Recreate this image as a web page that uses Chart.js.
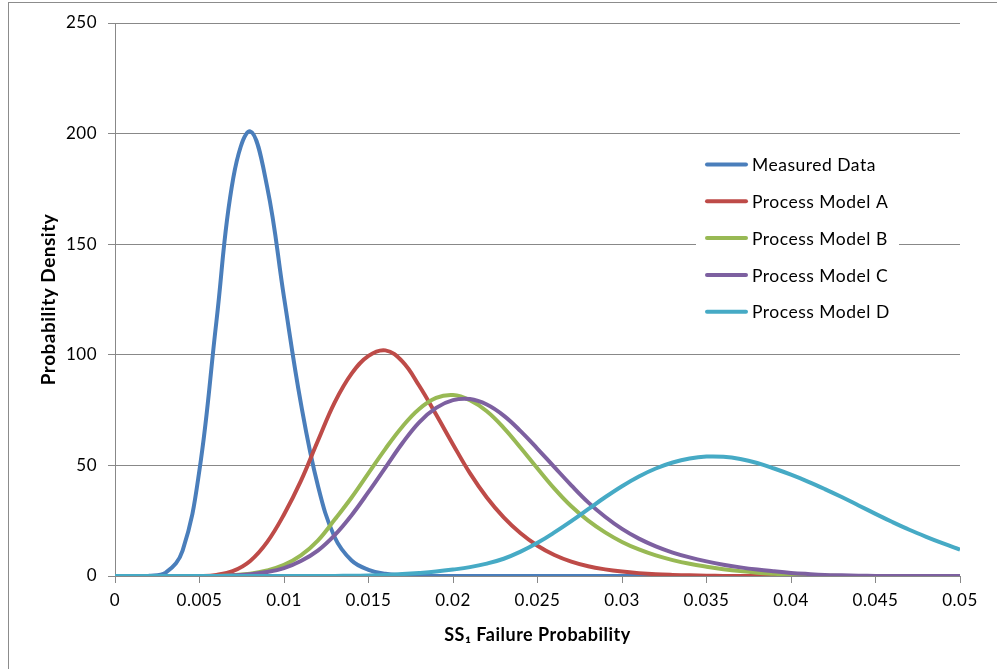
<!DOCTYPE html>
<html>
<head>
<meta charset="utf-8">
<script src="https://cdn.jsdelivr.net/npm/chart.js@4/dist/chart.umd.min.js"></script>
<style>
  html, body { margin: 0; padding: 0; background: #fff; }
  #wrap { position: relative; width: 997px; height: 669px; overflow: hidden; }
  #frame { position: absolute; left: 8px; top: 2px; width: 1200px; height: 900px; border-left: 1px solid #8c8c8c; border-top: 1px solid #8c8c8c; pointer-events: none; }
  canvas { position: absolute; left: 0; top: 0; }
</style>
</head>
<body>
<div id="wrap">
  <canvas id="chart" width="997" height="669"></canvas>
  <div id="frame"></div>
</div>
<script>
// failure probability, step 0.001
var xValues = [0.000, 0.001, 0.002, 0.003, 0.004, 0.005, 0.006, 0.007, 0.008, 0.009,
               0.010, 0.011, 0.012, 0.013, 0.014, 0.015, 0.016, 0.017, 0.018, 0.019,
               0.020, 0.021, 0.022, 0.023, 0.024, 0.025, 0.026, 0.027, 0.028, 0.029,
               0.030, 0.031, 0.032, 0.033, 0.034, 0.035, 0.036, 0.037, 0.038, 0.039,
               0.040, 0.041, 0.042, 0.043, 0.044, 0.045, 0.046, 0.047, 0.048, 0.049, 0.050];

var measuredData = [0, 0, 0.1, 1.5, 11.5, 48, 115, 180, 201, 176,
                    126, 78, 41, 17.5, 7, 2.8, 1, 0.35, 0.1, 0,
                    0, 0, 0, 0, 0, 0, 0, 0, 0, 0,
                    0, 0, 0, 0, 0, 0, 0, 0, 0, 0,
                    0, 0, 0, 0, 0, 0, 0, 0, 0, 0, 0];

var modelA = [0, 0, 0, 0, 0, 0, 0.5, 2.3, 6.8, 15.3,
              27.8, 43, 61, 78.5, 91.5, 99.5, 102, 97, 86, 73,
              59.5, 46.5, 35.5, 26.5, 19.3, 13.7, 9.5, 6.5, 4.4, 3,
              2, 1.3, 0.8, 0.5, 0.3, 0.15, 0.05, 0, 0, 0,
              0, 0, 0, 0, 0, 0, 0, 0, 0, 0, 0];

var modelB = [0, 0, 0, 0, 0, 0, 0, 0.4, 1, 2.5,
              5, 9.3, 16, 25.5, 35.5, 46.5, 57.5, 67.5, 75.5, 80.5,
              81.8, 79.5, 74.5, 67, 58, 48.6, 39.5, 31.5, 25, 19.7,
              15.4, 12, 9.3, 7.2, 5.5, 4.2, 3.1, 2.2, 1.5, 1,
              0.6, 0.35, 0.15, 0.05, 0, 0, 0, 0, 0, 0, 0];

var modelC = [0, 0, 0, 0, 0, 0, 0, 0.3, 0.8, 1.8,
              3.6, 6.8, 11.5, 18.5, 27.5, 38, 49, 60, 69.5, 76,
              79.5, 80, 77.5, 72.5, 65.5, 57.5, 49.2, 41, 33.3, 26.8,
              21.3, 16.9, 13.4, 10.6, 8.4, 6.6, 5.1, 3.9, 2.9, 2.1,
              1.4, 0.9, 0.5, 0.3, 0.15, 0.05, 0, 0, 0, 0, 0];

var modelD = [0, 0, 0, 0, 0, 0, 0, 0, 0, 0,
              0, 0, 0, 0.05, 0.1, 0.25, 0.5, 0.85, 1.35, 2,
              2.9, 4, 5.6, 7.8, 11, 15, 19.7, 24.8, 30.2, 35.6,
              40.6, 45, 48.6, 51.3, 53.1, 54, 53.9, 52.9, 51.1, 48.6,
              45.8, 42.7, 39.3, 35.7, 31.9, 28.1, 24.4, 20.9, 17.7, 14.7, 11.9];

var seriesNames = ['Measured Data', 'Process Model A', 'Process Model B', 'Process Model C', 'Process Model D'];
var seriesColors = ['#4a7ebb', '#be4b48', '#98b954', '#7d60a0', '#46aac5'];
var xTicks = [0, 0.005, 0.01, 0.015, 0.02, 0.025, 0.03, 0.035, 0.04, 0.045, 0.05];
var yTicks = [0, 50, 100, 150, 200, 250];

var gridColor = '#888888';

function points(ys) {
    return ys.map(function (y, i) { return { x: xValues[i], y: y }; });
}

var allSeries = [measuredData, modelA, modelB, modelC, modelD];
var datasets = allSeries.map(function (ys, i) {
    return {
        label: seriesNames[i],
        data: points(ys),
        borderColor: seriesColors[i],
        backgroundColor: seriesColors[i],
        borderWidth: 4,
        pointRadius: 0,
        tension: 0.4,
        fill: false,
        order: allSeries.length - i   // later series painted on top
    };
});

// a bit of tracking, the original font runs wide
var spacing = {
    id: 'spacing',
    beforeLayout: function (chart) { chart.ctx.letterSpacing = '0.5px'; },
    beforeDraw: function (chart) { chart.ctx.letterSpacing = '0.5px'; }
};

// legend drawn inside the plot, like the original
var boxLegend = {
    id: 'boxLegend',
    afterDraw: function (chart) {
        var ctx = chart.ctx;
        ctx.save();
        ctx.fillStyle = '#fff';
        ctx.fillRect(696, 145, 203, 186);
        ctx.font = '17.5px Lato';
        ctx.textBaseline = 'middle';
        ctx.lineCap = 'round';
        seriesNames.forEach(function (name, i) {
            var y = 164.5 + i * 36.8;
            ctx.strokeStyle = seriesColors[i];
            ctx.lineWidth = 4;
            ctx.beginPath();
            ctx.moveTo(707, y);
            ctx.lineTo(746, y);
            ctx.stroke();
            ctx.fillStyle = '#000';
            ctx.fillText(name, 752, y + 1);
        });
        ctx.restore();
    }
};

var ctx = document.getElementById('chart').getContext('2d');
new Chart(ctx, {
    type: 'line',
    data: { datasets: datasets },
    plugins: [spacing, boxLegend],
    options: {
        responsive: false,
        animation: false,
        layout: { padding: { left: 0, top: 23, right: 37, bottom: 0 } },
        plugins: {
            legend: { display: false },
            tooltip: { enabled: false }
        },
        scales: {
            x: {
                type: 'linear',
                min: 0,
                max: 0.05,
                afterBuildTicks: function (scale) {
                    scale.ticks = xTicks.map(function (v) { return { value: v }; });
                },
                afterFit: function (scale) { scale.height = 93; },
                ticks: {
                    color: '#000',
                    font: { family: 'Lato', size: 17 },
                    padding: 7,
                    maxRotation: 0,
                    autoSkip: false,
                    callback: function (v) { return String(parseFloat(v.toFixed(3))); }
                },
                grid: { drawOnChartArea: false, drawTicks: true, tickLength: 7, color: gridColor },
                border: { color: gridColor },
                title: {
                    display: true,
                    text: 'SS\u2081 Failure Probability',
                    color: '#000',
                    font: { family: 'Lato', size: 18, weight: 'bold' },
                    padding: { top: 0, bottom: 23 }
                }
            },
            y: {
                min: 0,
                max: 250,
                afterBuildTicks: function (scale) {
                    scale.ticks = yTicks.map(function (v) { return { value: v }; });
                },
                afterFit: function (scale) { scale.width = 115; },
                ticks: {
                    color: '#000',
                    font: { family: 'Lato', size: 17 },
                    padding: 11
                },
                grid: { color: gridColor, tickLength: 7 },
                border: { color: gridColor },
                title: {
                    display: true,
                    text: 'Probability Density',
                    color: '#000',
                    font: { family: 'Lato', size: 19, weight: 'bold' },
                    padding: { top: 37, bottom: 0 }
                }
            }
        }
    }
});
</script>
</body>
</html>
